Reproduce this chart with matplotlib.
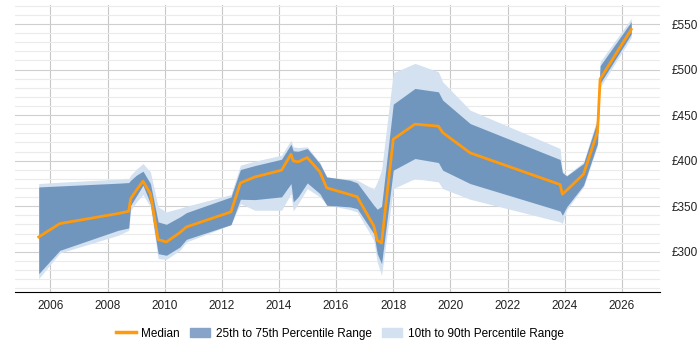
import matplotlib
matplotlib.use("Agg")
from matplotlib import pyplot as plt
from matplotlib.ticker import MultipleLocator, FuncFormatter
from matplotlib.patches import Patch
from matplotlib.lines import Line2D

# dates as decimal years
dates = [2005.59, 2006.33, 2008.37, 2008.74, 2008.81, 2009.01, 2009.24, 2009.50,
         2009.77, 2010.06, 2010.53, 2010.76, 2012.32, 2012.65, 2013.16, 2014.09,
         2014.42, 2014.50, 2014.67, 2014.99, 2015.43, 2015.67, 2016.48, 2016.74,
         2017.32, 2017.44, 2017.59, 2018.00, 2018.76, 2019.58, 2019.73, 2020.69,
         2023.84, 2023.92, 2024.07, 2024.66, 2025.15, 2025.24, 2026.33]

median = [316.3, 331.0, 342.0, 344.5, 358.4, 367.6, 377.5, 363.9,
          313.4, 310.8, 321.1, 327.3, 343.8, 375.6, 382.2, 389.6,
          407.1, 399.8, 398.7, 403.5, 387.7, 370.2, 362.8, 360.3,
          328.4, 312.6, 309.7, 423.6, 440.1, 437.9, 430.9, 408.6,
          373.8, 363.2, 367.6, 385.2, 431.7, 489.6, 544.1]

p75 = [371.2, 372.3, 375.3, 376.0, 378.6, 384.1, 388.5, 375.0,
       332.8, 330.2, 338.3, 343.0, 360.2, 390.3, 394.7, 401.6,
       418.1, 410.8, 410.4, 413.4, 396.9, 382.2, 378.6, 375.6,
       351.1, 346.7, 350.0, 462.1, 479.3, 475.6, 466.5, 440.8,
       401.3, 387.0, 383.3, 396.9, 444.5, 504.2, 552.6]

p25 = [276.0, 301.6, 323.6, 326.2, 351.1, 361.3, 373.1, 352.9,
       298.0, 296.2, 305.3, 313.7, 329.8, 357.7, 357.3, 360.3,
       374.9, 354.8, 360.3, 375.6, 363.9, 351.1, 349.3, 347.4,
       319.9, 298.0, 287.0, 389.6, 402.4, 398.0, 389.6, 374.9,
       344.9, 340.1, 349.3, 373.1, 418.9, 484.8, 539.0]

p90 = [374.9, 376.4, 379.7, 380.4, 384.1, 390.7, 396.9, 387.7,
       349.3, 343.8, 347.8, 350.0, 362.8, 395.1, 399.5, 406.0,
       422.5, 415.2, 414.5, 415.2, 398.0, 382.2, 379.7, 378.6,
       368.7, 376.7, 389.6, 496.5, 506.8, 497.6, 486.6, 455.5,
       413.4, 388.8, 384.1, 398.7, 447.4, 508.6, 556.2]

p10 = [270.5, 298.7, 318.1, 323.6, 345.6, 354.8, 362.8, 349.3,
       292.5, 291.8, 301.6, 310.8, 329.8, 352.9, 345.6, 345.6,
       363.9, 344.9, 352.9, 369.4, 360.3, 351.8, 346.3, 343.8,
       312.6, 288.8, 274.2, 369.4, 380.4, 376.7, 369.4, 357.7,
       332.8, 331.0, 346.3, 371.2, 416.3, 480.4, 535.3]

plt.rcParams['font.family'] = ['Liberation Sans', 'DejaVu Sans']

fig = plt.figure(figsize=(7, 3.5), dpi=100)
ax = fig.add_axes([0.021, 0.166, 0.922, 0.82])

light = '#d3e1f0'
dark = '#7096be'
orange = '#ff9a0d'

ax.fill_between(dates, p10, p90, color=light, lw=0)
ax.fill_between(dates, p25, p75, color=dark, lw=0)
ax.plot(dates, median, color=orange, lw=2)

ax.set_xlim(2004.75, 2027.34)
ax.set_ylim(256, 571)

ax.xaxis.set_major_locator(MultipleLocator(2))
ax.yaxis.set_major_locator(MultipleLocator(50))
ax.yaxis.set_minor_locator(MultipleLocator(10))
ax.yaxis.set_major_formatter(FuncFormatter(lambda v, p: '£%d' % v if v >= 300 else ''))
ax.yaxis.tick_right()

ax.grid(True, which='major', axis='x', color='#c8c8c8', lw=0.8)
ax.grid(True, which='major', axis='y', color='#cfcfcf', lw=0.8)
ax.grid(True, which='minor', axis='y', color='#ebebeb', lw=0.8)
ax.set_axisbelow(True)

for s in ['top', 'left', 'right']:
    ax.spines[s].set_visible(False)
ax.spines['bottom'].set_color('black')

ax.tick_params(axis='both', which='both', length=0, labelsize=8.5, colors='#222222')
ax.tick_params(axis='x', pad=6)
ax.tick_params(axis='y', pad=8)

handles = [Line2D([], [], color=orange, lw=2.5),
           Patch(color='#87a4c8'),
           Patch(color=light)]
labels = ['Median', '25th to 75th Percentile Range', '10th to 90th Percentile Range']
fig.legend(handles, labels, loc='center', bbox_to_anchor=(0.485, 0.047), ncol=3,
           frameon=False, fontsize=8.5, handlelength=1.7, columnspacing=0.9,
           handletextpad=0.45)

plt.savefig('out.png', dpi=100)
